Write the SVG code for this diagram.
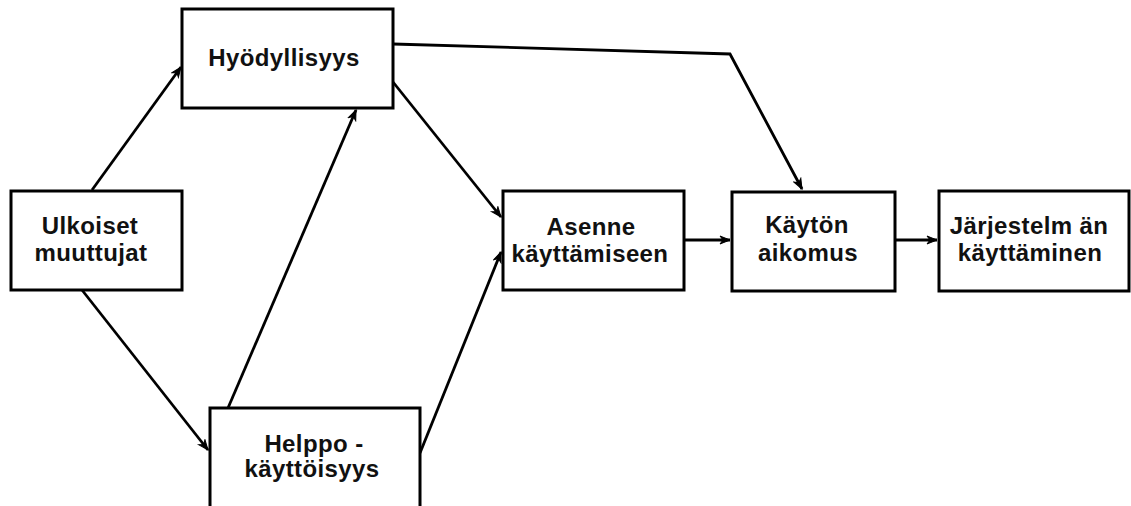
<svg xmlns="http://www.w3.org/2000/svg" width="1131" height="506" viewBox="0 0 1131 506">
  <defs>
    <style>
      .box { fill: #fff; stroke: #000; stroke-width: 3; }
      .lbl { font-family: "Liberation Sans", Arial, sans-serif; font-weight: bold; font-size: 24px; letter-spacing: 0.4px; fill: #111; text-anchor: middle; }
      .edge { fill: none; stroke: #000; stroke-width: 2.8; marker-end: url(#arrow); }
    </style>
    <marker id="arrow" markerUnits="userSpaceOnUse" markerWidth="14" markerHeight="12" refX="11" refY="5" orient="auto">
      <path d="M1,1 L11,5 L1,9 L4,5 z" fill="#000" stroke="#000" stroke-width="1"/>
    </marker>
  </defs>
  <rect width="1131" height="506" fill="#fff"/>

  <g id="connectors">
    <path class="edge" d="M92,190 L181,67"/>
    <path class="edge" d="M82,290 L208,450"/>
    <path class="edge" d="M228,408 L356,110"/>
    <path class="edge" d="M393,82 L501,217"/>
    <path class="edge" d="M420,453 L501,252"/>
    <path class="edge" d="M393,44 L730,54 L802,189"/>
    <path class="edge" d="M684,240 L730,240"/>
    <path class="edge" d="M895,240 L937,240"/>
  </g>

  <g id="hyodyllisyys">
    <rect class="box" x="182" y="9" width="211" height="99"/>
    <text class="lbl" x="284" y="66">Hyödyllisyys</text>
  </g>

  <g id="ulkoiset">
    <rect class="box" x="11" y="191" width="171" height="99"/>
    <text class="lbl" x="90" y="234">Ulkoiset</text>
    <text class="lbl" x="91" y="261">muuttujat</text>
  </g>

  <g id="helppokayttoisyys">
    <rect class="box" x="210" y="408" width="210" height="120"/>
    <text class="lbl" x="314" y="452">Helppo -</text>
    <text class="lbl" x="312" y="477">käyttöisyys</text>
  </g>

  <g id="asenne">
    <rect class="box" x="503" y="191" width="181" height="99"/>
    <text class="lbl" x="591" y="235">Asenne</text>
    <text class="lbl" x="590" y="262">käyttämiseen</text>
  </g>

  <g id="aikomus">
    <rect class="box" x="732" y="192" width="163" height="99"/>
    <text class="lbl" x="807" y="233">Käytön</text>
    <text class="lbl" x="808" y="261">aikomus</text>
  </g>

  <g id="kaytto">
    <rect class="box" x="939" y="191" width="190" height="100"/>
    <text class="lbl" x="1029" y="234">Järjestelm än</text>
    <text class="lbl" x="1030" y="261">käyttäminen</text>
  </g>
</svg>
